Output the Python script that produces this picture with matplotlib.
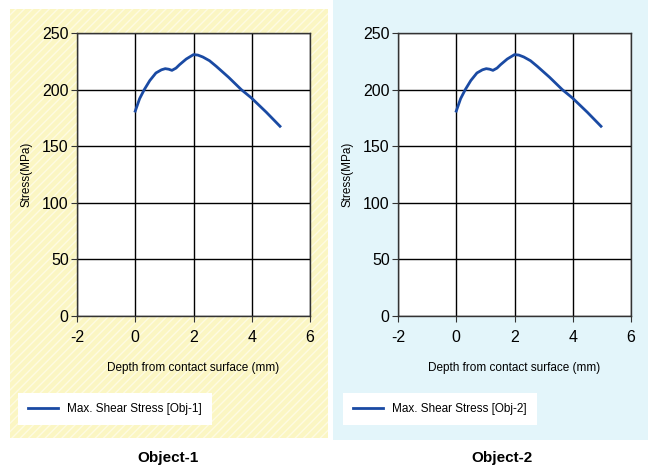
import matplotlib
matplotlib.use('Agg')
import matplotlib.pyplot as plt
from matplotlib.patches import Rectangle

# dati
depth = [0, 0.15, 0.31, 0.5, 0.71, 0.9, 1.03, 1.15, 1.26, 1.4, 1.52, 1.75,
         2.0, 2.15, 2.32, 2.55, 2.78, 3.2, 3.64, 3.99, 4.5, 4.97]
stress = [181, 192, 200, 208, 214.7, 217.5, 218.5, 218, 217, 219, 222, 227,
          230.9, 230.5, 228.8, 225.5, 220.6, 211, 200, 192.6, 180, 167.6]
labels = ['Max. Shear Stress [Obj-1]', 'Max. Shear Stress [Obj-2]']
titles = ['Object-1', 'Object-2']
xticks = [-2, 0, 2, 4, 6]
yticks = [0, 50, 100, 150, 200, 250]

plt.rcParams['font.family'] = ['Liberation Sans', 'DejaVu Sans']
plt.rcParams['axes.unicode_minus'] = False
W, H = 651, 466
fig = plt.figure(figsize=(W / 100, H / 100), dpi=100)

# sfondi dei due pannelli (zorder negativo: sotto gli assi)
bg1 = Rectangle((10 / W, 1 - 438 / H), 318 / W, 429 / H, transform=fig.transFigure,
                facecolor='#fbf6c3', edgecolor='#fefbe2', hatch='////', linewidth=0, zorder=-5)
bg2 = Rectangle((333 / W, 1 - 440 / H), 315 / W, 440 / H, transform=fig.transFigure,
                facecolor='#e3f5fa', edgecolor='none', linewidth=0, zorder=-5)
fig.patches.extend([bg1, bg2])

panels = [
    {'left': 77, 'legend_x': 18, 'title_x': 168},
    {'left': 398, 'legend_x': 343, 'title_x': 502},
]

for i, p in enumerate(panels):
    ax = fig.add_axes([p['left'] / W, 1 - 316 / H, 233 / W, 283 / H])
    ax.set_facecolor('white')
    line, = ax.plot(depth, stress, color='#1a4aa3', linewidth=2, label=labels[i], zorder=3)
    ax.set_xlim(-2, 6)
    ax.set_ylim(0, 250)
    ax.set_xticks(xticks)
    ax.set_yticks(yticks)
    ax.grid(True, color='black', linewidth=1)
    for s in ax.spines.values():
        s.set_color('#333333')
        s.set_linewidth(1)
    ax.tick_params(labelsize=11.5, length=4, color='#333333', pad=2)
    ax.tick_params(axis='x', pad=6)
    ax.set_xlabel('Depth from contact surface (mm)', fontsize=8.5, labelpad=12)
    ax.set_ylabel('Stress(MPa)', fontsize=8.5, labelpad=7)
    leg = ax.legend(handles=[line], loc='lower left',
                    bbox_to_anchor=(p['legend_x'] / W, 1 - 425 / H), bbox_transform=fig.transFigure,
                    fancybox=False, edgecolor='none', framealpha=1, fontsize=8.5,
                    handlelength=2.5, borderpad=0.85, borderaxespad=0)
    fig.text(p['title_x'] / W, 1 - 458 / H, titles[i], fontsize=11, fontweight='bold',
             ha='center', va='center')

fig.savefig('out.png', dpi=100)
